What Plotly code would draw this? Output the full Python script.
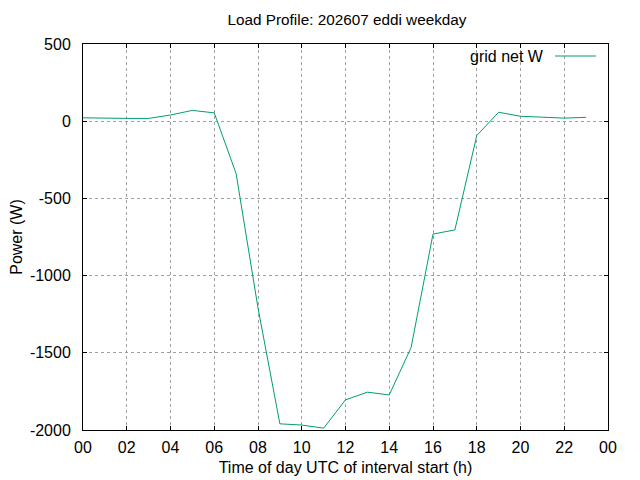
import plotly.graph_objects as go

# hourly grid power, weekday profile
hours = list(range(24))
grid_net_w = [22, 18, 18, 18, 40, 70, 54, -340, -1210, -1960, -1968, -1988,
              -1805, -1755, -1773, -1465, -731, -704, -93, 58, 32, 26, 20, 25]
xtick_vals = list(range(0, 25, 2))
xtick_text = ['%02d' % (h % 24) for h in xtick_vals]
ytick_vals = [-2000, -1500, -1000, -500, 0, 500]
ytick_text = [str(v) for v in ytick_vals]  # plain hyphen like gnuplot

FONT = 'Liberation Sans, Arial, sans-serif'
LINE_COL = '#009e73'
FS = 16
OFF = 8  # page body margin in the browser

# plot box in page pixels (gnuplot-like)
L, T, PR, PB = 83, 44, 608, 430
w_plot = PR - L
h_plot = PB - T

fig = go.Figure()
fig.add_trace(go.Scatter(x=hours, y=grid_net_w, mode='lines', name='grid net W',
                         line=dict(color=LINE_COL, width=1), showlegend=False))

axis_common = dict(showline=True, linecolor='black', linewidth=1, mirror='ticks',
                   ticks='inside', ticklen=4, tickcolor='black', automargin=False,
                   showgrid=True, gridcolor='#a0a0a0', griddash='dot', gridwidth=1,
                   zeroline=False, tickfont=dict(size=FS, color='black'))

fig.update_xaxes(range=[0, 24], tickvals=xtick_vals, ticktext=xtick_text,
                 ticklabelstandoff=3,
                 title=dict(text='Time of day UTC of interval start (h)', standoff=6,
                            font=dict(size=FS)), **axis_common)
fig.update_yaxes(range=[-2000, 500], tickvals=ytick_vals, ticktext=ytick_text,
                 ticklabelstandoff=8,
                 title=dict(text='Power (W)', standoff=12, font=dict(size=FS)),
                 **axis_common)

fig.update_layout(
    width=640, height=480,
    margin=dict(l=L - OFF, r=640 - (L - OFF) - w_plot, t=T - OFF,
                b=480 - (PB - OFF)),
    paper_bgcolor='white', plot_bgcolor='white',
    font=dict(family=FONT, color='black', size=FS),
    title=dict(text='Load Profile: 202607 eddi weekday', x=(347 - OFF) / 640,
               xanchor='center', y=1 - (20 - OFF) / 480, yanchor='middle',
               font=dict(size=15.3), automargin=False),
)

# gnuplot-style key: text then line sample on the right
key_y = 1 - (56 - T) / h_plot
fig.add_annotation(x=(546 - L) / w_plot, y=key_y, xref='x domain', yref='y domain',
                   text='grid net W', showarrow=False, xanchor='right',
                   yanchor='middle', font=dict(size=FS))
fig.add_shape(type='line', xref='x domain', yref='y domain',
              x0=(555 - L) / w_plot, x1=(596 - L) / w_plot, y0=key_y, y1=key_y,
              line=dict(color=LINE_COL, width=1))

fig.write_html('out.html')
